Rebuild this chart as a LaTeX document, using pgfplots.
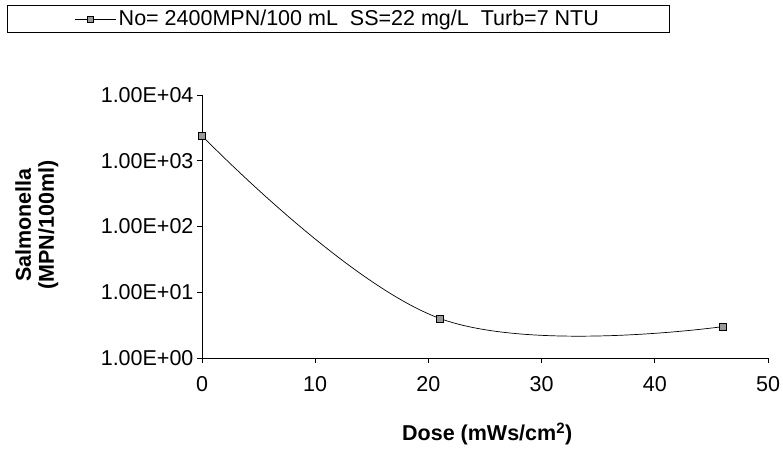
\documentclass[border=0pt]{standalone}
\usepackage{pgfplots}
\pgfplotsset{compat=1.18}
\usepackage{fontspec}
\setmainfont{Liberation Sans}
\begin{document}
\begin{tikzpicture}[x=1pt,y=1pt]
\path[use as bounding box] (-202,-92) rectangle (581,358);
\begin{axis}[
  at={(0,0)}, anchor=south west,
  scale only axis, width=566pt, height=263pt,
  ymode=log, xmin=0, xmax=50, ymin=1, ymax=10000,
  axis lines=left, axis line style={-, line width=0.8pt},
  xtick={0,10,20,30,40,50},
  ytick={1,10,100,1000,10000},
  yticklabels={1.00E+00,1.00E+01,1.00E+02,1.00E+03,1.00E+04},
  minor ytick={}, yminorticks=false,
  tick align=outside, major tick length=5pt,
  tick style={black, line width=0.7pt},
  /pgf/number format/assume math mode=true,
  ticklabel style={font=\fontsize{21.5}{24}\selectfont},
  yticklabel style={xshift=0pt},
  xticklabel style={yshift=-10pt},
  xlabel={\textbf{Dose (mWs/cm\textsuperscript{2})}},
  ylabel={\textbf{Salmonella}\\\textbf{(MPN/100ml)}},
  label style={font=\fontsize{21.5}{23}\selectfont},
  xlabel style={at={(axis description cs:0.504,-0.289)}, anchor=center},
  ylabel style={at={(axis description cs:-0.292,0.506)}, anchor=center, align=center},
  legend style={at={(axis description cs:-0.345,1.342)}, anchor=north west,
    draw=black, line width=0.6pt, font=\fontsize{21.5}{24}\selectfont,
    inner xsep=68pt, inner ysep=3pt, legend cell align=left},
  legend image code/.code={
    \path (0pt,0pt) -- (41pt,0pt);
    \draw[black, line width=0.7pt] (0pt,0pt) -- (30pt,0pt);
    \draw[black, fill=gray!80, line width=0.4pt] (12pt,-3pt) rectangle (18pt,3pt);
  },
  clip=false,
]
\addplot[black, line width=0.7pt, smooth, tension=0.65, mark=square*, mark size=3.5pt,
  mark options={fill=gray!80, draw=black, line width=0.4pt}]
  coordinates {(0,2400) (21,4) (46,3)};
\addlegendentry{No= 2400MPN/100 mL\ \ SS=22 mg/L\ \ Turb=7 NTU}
\end{axis}
\end{tikzpicture}
\end{document}
